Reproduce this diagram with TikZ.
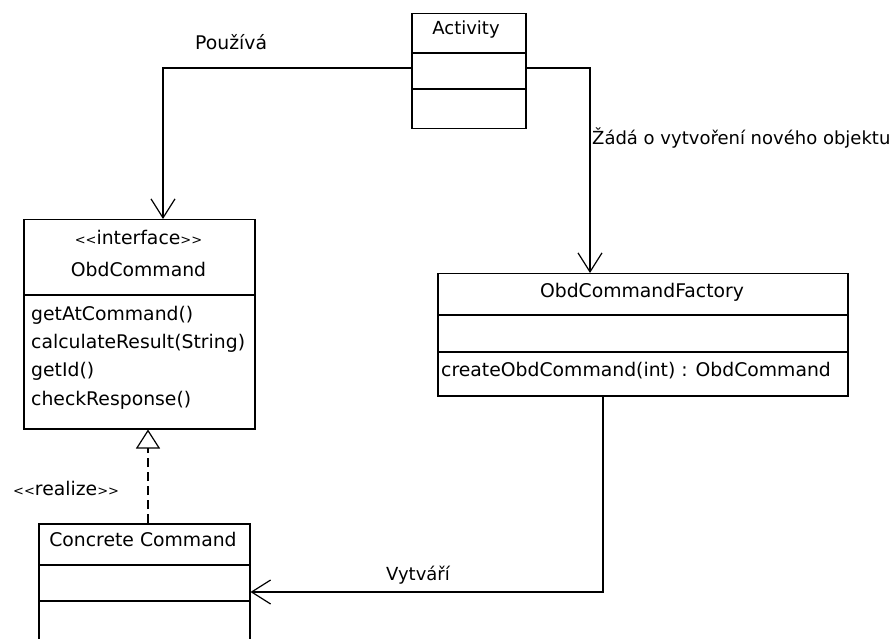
\documentclass[tikz,border=0pt]{standalone}
\usepackage{fontspec}
\setmainfont{DejaVu Sans}
\usetikzlibrary{arrows.meta}
% small angle brackets for UML stereotypes
\newcommand{\stlt}{{\fontsize{13}{15}\selectfont<{}<}}
\newcommand{\stgt}{{\fontsize{13}{15}\selectfont>{}>}}
\begin{document}
\begin{tikzpicture}[x=1pt,y=-1pt,
  classbox/.style={draw=black, line width=1.5pt, fill=white, rectangle, inner sep=0pt, anchor=north west},
  sep/.style={line width=1.5pt},
  txt/.style={inner sep=0pt, font=\fontsize{18.8}{22}\selectfont},
  assoc/.style={line width=1.2pt, -{Straight Barb[length=19pt, width=24pt, line width=1.2pt]}},
  realizes/.style={line width=1.2pt, dash pattern=on 9pt off 5pt, -{Triangle[open, length=19pt, width=24pt, line width=1.2pt]}}
]
\useasboundingbox (0,0) rectangle (895,639);
\clip (0,0) rectangle (895,639);
\fill[white] (0,0) rectangle (895,639);

% Activity
\node[classbox, minimum width=114pt, minimum height=115pt] (activity) at (411,13) {};
\draw[sep] (activity.west |- 0,53) -- (activity.east |- 0,53);
\draw[sep] (activity.west |- 0,89) -- (activity.east |- 0,89);
\node[inner sep=0pt, font=\fontsize{18}{22}\selectfont, anchor=base] (activityname) at (466,35) {Activity};

% ObdCommand interface
\node[classbox, minimum width=231pt, minimum height=209pt] (obdcmd) at (23,219) {};
\draw[sep] (obdcmd.west |- 0,295) -- (obdcmd.east |- 0,295);
\node[txt, anchor=base] (stereo) at (138.5,245) {\stlt interface\stgt};
\node[txt, anchor=base] (obdname) at (138.5,277) {ObdCommand};
\node[txt, anchor=base west] (m1) at (31,320) {getAtCommand()};
\node[txt, anchor=base west] (m2) at (31,348.5) {calculateResult(String)};
\node[txt, anchor=base west] (m3) at (31,377) {getId()};
\node[txt, anchor=base west] (m4) at (31,405.5) {checkResponse()};

% ObdCommandFactory
\node[classbox, minimum width=410pt, minimum height=122pt] (factory) at (437,273) {};
\draw[sep] (factory.west |- 0,315) -- (factory.east |- 0,315);
\draw[sep] (factory.west |- 0,352) -- (factory.east |- 0,352);
\node[txt, anchor=base] (factoryname) at (642,298) {ObdCommandFactory};
\node[txt, anchor=base west] (fm1) at (441,377) {createObdCommand(int) : ObdCommand};

% Concrete Command (runs past the lower edge)
\node[classbox, minimum width=211pt, minimum height=140pt] (concrete) at (38,523) {};
\draw[sep] (concrete.west |- 0,565) -- (concrete.east |- 0,565);
\draw[sep] (concrete.west |- 0,601) -- (concrete.east |- 0,601);
\node[txt, anchor=base] (concretename) at (143,546) {Concrete Command};

% Connectors
\coordinate (usesbend) at (163,68);
\draw[assoc] (activity.west |- usesbend) -- (usesbend) -- (usesbend |- obdcmd.north);
\node[txt, anchor=base west] (useslbl) at (195,50) {Používá};

\coordinate (asksbend) at (590,68);
\draw[assoc] (activity.east |- asksbend) -- (asksbend) -- (asksbend |- factory.north);
\node[inner sep=0pt, font=\fontsize{18}{22}\selectfont, anchor=base west] (askslbl) at (592,145) {Žádá o vytvoření nového objektu};

\coordinate (createsbend) at (603,592);
\draw[assoc] (createsbend |- factory.south) -- (createsbend) -- (concrete.east |- createsbend);
\node[inner sep=0pt, font=\fontsize{18}{22}\selectfont, anchor=base west] (createslbl) at (386,580) {Vytváří};

\coordinate (realizex) at (148,0);
\draw[realizes] (realizex |- concrete.north) -- (realizex |- obdcmd.south);
\node[txt, anchor=base west] (realizelbl) at (13,495) {\stlt realize\stgt};
\end{tikzpicture}
\end{document}
